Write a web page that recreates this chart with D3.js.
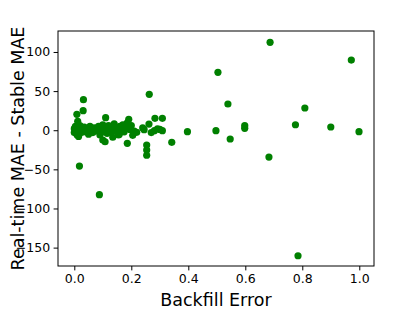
<!DOCTYPE html>
<html>
  <head>
    <script src="https://d3js.org/d3.v7.min.js"></script>
    <style>
      body { margin: 0; background: #fff; }
      text { font-family: "DejaVu Sans", sans-serif; fill: #000; }
    </style>
  </head>
  <body>
    <svg width="399" height="311" id="chart"></svg>
    <script>
      // backfill error per region/week
      const backfillError = [
        0.687, 0.504, 0.539, 0.397, 0.497, 0.598, 0.598, 0.547, 0.683, 0.342,
        0.972, 0.809, 0.776, 0.9, 0.999, 0.785,
        0.263, 0.032, 0.031, 0.009, 0.012, 0.018, 0.088, 0.11, 0.191, 0.283,
        0.309, 0.186, 0.254, 0.254, 0.254, 0.205, 0.219, 0.245, 0.262, 0.281,
        0.292, 0.309, 0.158, 0.1, 0.108,
        0.0, 0.0, 0.004, 0.005, 0.01, 0.01, 0.012, 0.015, 0.02, 0.02,
        0.025, 0.03, 0.035, 0.04, 0.045, 0.05, 0.055, 0.06, 0.065, 0.07,
        0.08, 0.085, 0.09, 0.095, 0.1, 0.1, 0.105, 0.11, 0.115, 0.12,
        0.125, 0.13, 0.135, 0.14, 0.145, 0.15, 0.155, 0.16, 0.165, 0.17,
        0.175, 0.18, 0.185, 0.195, 0.2, 0.21, 0.24, 0.27, 0.3, 0.135
      ];
      // real-time MAE minus stable MAE
      const maeDiff = [
        112.3, 74, 33.5, -1.9, -0.6, 5.8, 2.4, -11.2, -34.3, -15.5,
        89.7, 28.4, 7, 4.1, -1.9, -160.4,
        45.9, 39, 25, 20.3, 11.4, -45.8, -82.4, 16, 13.9, 15.2,
        15.2, -16.8, -19, -25.3, -32, -6.5, -2.7, 0.7, 7.9, -0.6,
        1.9, -0.6, -5.3, -12.5, -14.7,
        2, -3, 5, -1, 0, -6, 3, -8, 1, 6,
        -3, 0, 4, -2, 2, -5, 5, 0, -3, 3,
        -1, 5, -6, 2, 7, -2, 0, 4, -4, 6,
        1, -3, 3, 8, -1, 2, -6, 5, 0, 7,
        -2, 3, 9, 1, 6, -1, 3, -3, 1, -9
      ];
      const xTicks = [0.0, 0.2, 0.4, 0.6, 0.8, 1.0];
      const yTicks = [-150, -100, -50, 0, 50, 100];

      const svg = d3.select("svg#chart");
      const box = { left: 58, right: 374, top: 31, bottom: 266 };

      const xScale = d3.scaleLinear().domain([-0.0572, 1.0516]).range([box.left, box.right]);
      const yScale = d3.scaleLinear().domain([-173.5, 126.8]).range([box.bottom, box.top]);

      const fmtY = (d) => (d < 0 ? "\u2212" + Math.abs(d) : String(d));

      const xAxis = svg
        .append("g")
        .attr("transform", `translate(0, ${box.bottom})`)
        .call(d3.axisBottom(xScale).tickValues(xTicks).tickFormat(d3.format(".1f")).tickSizeOuter(0).tickSize(4.4).tickPadding(3.5));
      const yAxis = svg
        .append("g")
        .attr("transform", `translate(${box.left}, 0)`)
        .call(d3.axisLeft(yScale).tickValues(yTicks).tickFormat(fmtY).tickSizeOuter(0).tickSize(4.4).tickPadding(3.5));

      [xAxis, yAxis].forEach((g) => {
        g.select(".domain").remove();
        g.selectAll("line").attr("stroke", "#000").attr("stroke-width", 1);
        g.selectAll("text").attr("font-size", "12.5px").attr("font-family", "DejaVu Sans").attr("fill", "#000");
      });

      // frame
      svg
        .append("rect")
        .attr("x", box.left)
        .attr("y", box.top)
        .attr("width", box.right - box.left)
        .attr("height", box.bottom - box.top)
        .attr("fill", "none")
        .attr("stroke", "#000")
        .attr("stroke-width", 1);

      svg
        .append("g")
        .selectAll("circle")
        .data(backfillError.map((x, i) => ({ x: x, y: maeDiff[i] })))
        .join("circle")
        .attr("cx", (d) => xScale(d.x))
        .attr("cy", (d) => yScale(d.y))
        .attr("r", 3.6)
        .attr("fill", "green");

      svg
        .append("text")
        .attr("x", (box.left + box.right) / 2)
        .attr("y", 306)
        .attr("text-anchor", "middle")
        .attr("font-size", "17.5px")
        .text("Backfill Error");

      svg
        .append("text")
        .attr("transform", `translate(24, ${(box.top + box.bottom) / 2}) rotate(-90)`)
        .attr("text-anchor", "middle")
        .attr("font-size", "17.5px")
        .text("Real-time MAE - Stable MAE");
    </script>
  </body>
</html>
